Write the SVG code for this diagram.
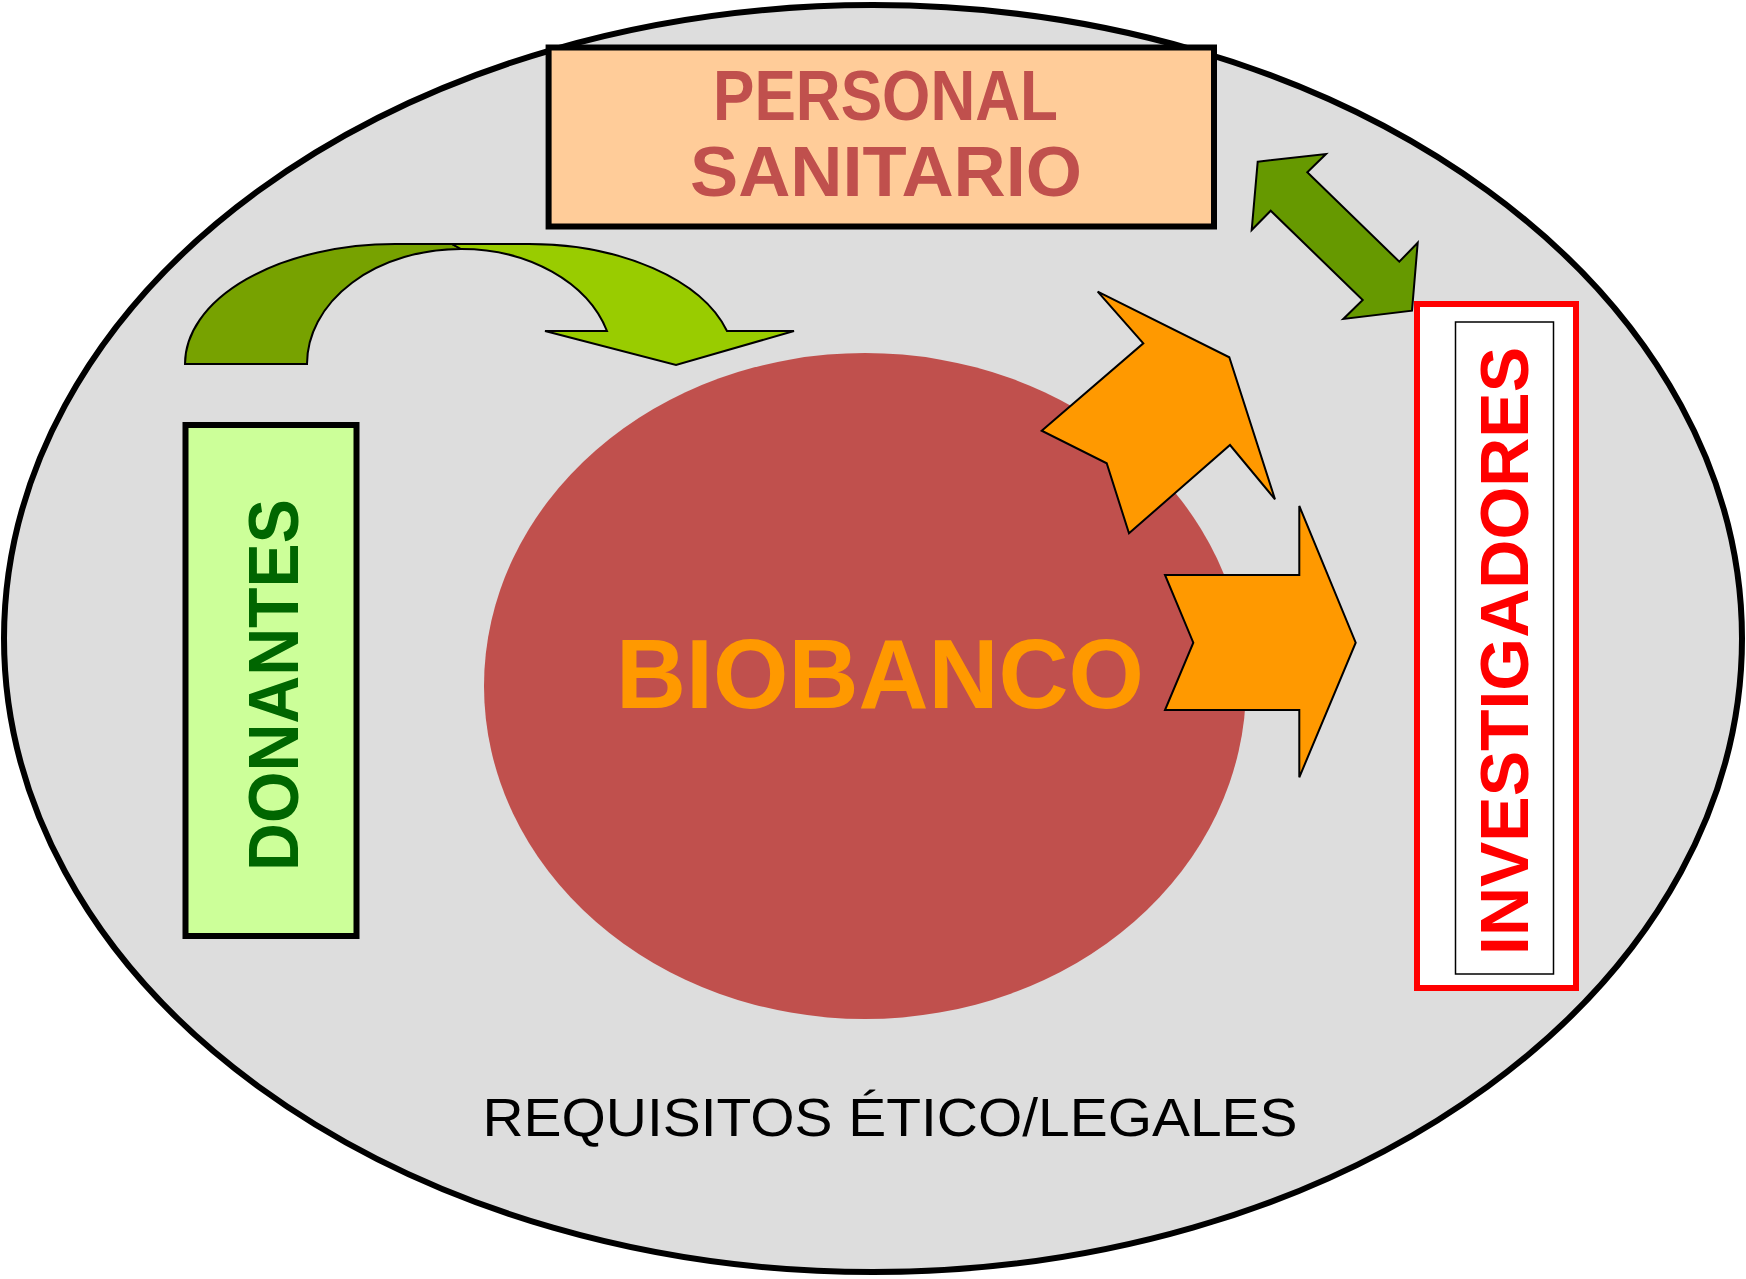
<svg xmlns="http://www.w3.org/2000/svg" width="1746" height="1279" viewBox="0 0 1746 1279">
<style>
.lbl{font-family:"Liberation Sans","DejaVu Sans",sans-serif;font-weight:bold}
.box{stroke:#000;stroke-width:6}
.arr{stroke:#000;stroke-width:2;stroke-linejoin:miter}
</style>
<rect width="1746" height="1279" fill="#ffffff"/>
<g id="marco">
<ellipse cx="873" cy="638.6" rx="869" ry="633.5" fill="#dddddd" stroke="#000" stroke-width="6"/>
<text x="890" y="1136" font-family="Liberation Sans, sans-serif" font-size="53" fill="#000" text-anchor="middle" textLength="815" lengthAdjust="spacingAndGlyphs">REQUISITOS ÉTICO/LEGALES</text>
</g>
<g id="biobanco">
<ellipse cx="865" cy="686" rx="381" ry="333" fill="#c0504d"/>
<text class="lbl" x="880" y="708" font-size="98" fill="#ff9900" text-anchor="middle" textLength="528" lengthAdjust="spacingAndGlyphs">BIOBANCO</text>
</g>
<g id="personal">
<rect class="box" x="548.6" y="47.5" width="665.4" height="179" fill="#ffcc99"/>
<text class="lbl" x="885.5" y="120" font-size="70" fill="#c0504d" text-anchor="middle" textLength="345" lengthAdjust="spacingAndGlyphs">PERSONAL</text>
<text class="lbl" x="886" y="196" font-size="70" fill="#c0504d" text-anchor="middle" textLength="392" lengthAdjust="spacingAndGlyphs">SANITARIO</text>
</g>
<g id="donantes">
<rect class="box" x="185.5" y="425" width="171" height="511" fill="#ccff99"/>
<text class="lbl" transform="translate(298,685) rotate(-90)" x="0" y="0" font-size="71" fill="#006600" text-anchor="middle" textLength="372" lengthAdjust="spacingAndGlyphs">DONANTES</text>
</g>
<g id="investigadores">
<rect x="1417" y="304" width="159" height="684" fill="#ffffff" stroke="#ff0000" stroke-width="6"/>
<rect x="1455.5" y="322" width="98" height="652" fill="none" stroke="#000" stroke-width="1.5"/>
<text class="lbl" transform="translate(1528,651) rotate(-90)" x="0" y="0" font-size="68" fill="#ff0000" text-anchor="middle" textLength="608" lengthAdjust="spacingAndGlyphs">INVESTIGADORES</text>
</g>
<g id="conectores">
<path class="arr" fill="#77a200" d="M185,364 A210,120 0 0 1 395,244 L452,244 L461,249 A154,115 0 0 0 307,364 Z"/>
<path class="arr" fill="#99cc00" d="M461,249 L452,244 L529,244 A206,120 0 0 1 727,331 L794,331 L676,365 L545,331 L607,331 A152,115 0 0 0 461,249 Z"/>
<polygon class="arr" fill="#669900" points="1257.7,161.7 1326,154 1307.3,172.3 1399.3,261.7 1417.7,242.7 1412,310.7 1343.3,319 1362.7,300 1270.7,210.7 1251.7,230"/>
<polygon class="arr" fill="#ff9900" points="1097.7,291.7 1229.3,357.3 1275,499.3 1230,445 1129,533.3 1106.7,463.3 1041.7,430.7 1143.3,343.3"/>
<polygon class="arr" fill="#ff9900" points="1165,575 1299.3,575 1299.3,506 1355.7,642.7 1299.3,777.3 1299.3,710 1165,710 1193.3,642.7"/>
</g>
</svg>
